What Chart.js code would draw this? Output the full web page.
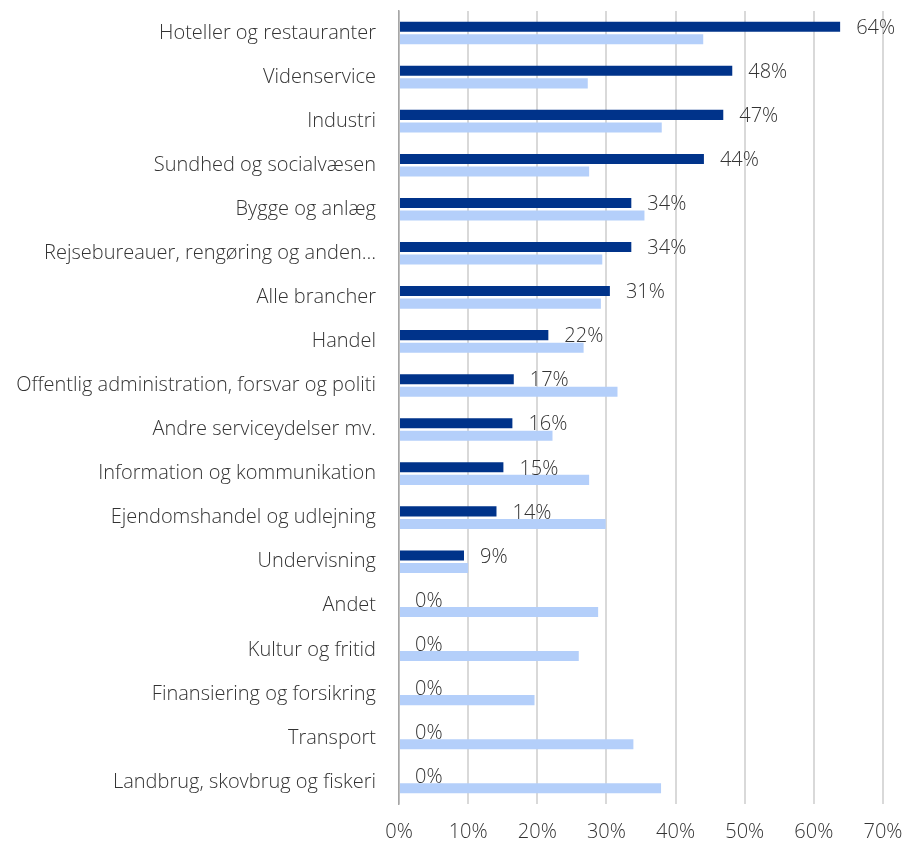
<!DOCTYPE html>
<html>
<head>
<meta charset="utf-8">
<script src="https://cdn.jsdelivr.net/npm/chart.js@4/dist/chart.umd.min.js"></script>
<style>
  html, body { margin: 0; padding: 0; background: #fff; }
  #wrap { width: 903px; height: 846px; }
</style>
</head>
<body>
<div id="wrap"><canvas id="c"></canvas></div>
<script>
const categories = [
  'Hoteller og restauranter',
  'Videnservice',
  'Industri',
  'Sundhed og socialvæsen',
  'Bygge og anlæg',
  'Rejsebureauer, rengøring og anden…',
  'Alle brancher',
  'Handel',
  'Offentlig administration, forsvar og politi',
  'Andre serviceydelser mv.',
  'Information og kommunikation',
  'Ejendomshandel og udlejning',
  'Undervisning',
  'Andet',
  'Kultur og fritid',
  'Finansiering og forsikring',
  'Transport',
  'Landbrug, skovbrug og fiskeri',
];

// dark series (labelled) and light series, in percent
const darkValues  = [63.8, 48.2, 46.9, 44.1, 33.6, 33.6, 30.5, 21.6, 16.6, 16.4, 15.1, 14.1, 9.4, 0, 0, 0, 0, 0];
const lightValues = [44.0, 27.3, 38.0, 27.5, 35.5, 29.4, 29.2, 26.7, 31.6, 22.2, 27.5, 29.9, 10.0, 28.8, 26.0, 19.6, 33.9, 37.9];

const xTicks = [0, 10, 20, 30, 40, 50, 60, 70];

const FONT = '"Open Sans", "Segoe UI", sans-serif';
const TEXT = '#333333';

// draws "64%" style labels after the dark bars
const barLabels = {
  id: 'barLabels',
  afterDatasetsDraw(chart) {
    const ctx = chart.ctx;
    const meta = chart.getDatasetMeta(0);
    ctx.save();
    ctx.font = '300 20px ' + FONT;
    ctx.fillStyle = TEXT;
    ctx.textAlign = 'left';
    ctx.textBaseline = 'middle';
    meta.data.forEach((bar, i) => {
      ctx.fillText(Math.round(darkValues[i]) + '%', bar.x + 16, bar.y + 1.5);
    });
    ctx.restore();
  }
};

new Chart(document.getElementById('c'), {
  type: 'bar',
  data: {
    labels: categories,
    datasets: [
      { data: darkValues, backgroundColor: '#00338a', barPercentage: 0.8, categoryPercentage: 0.57 },
      { data: lightValues, backgroundColor: '#b4cffa', barPercentage: 0.8, categoryPercentage: 0.57 },
    ],
  },
  options: {
    indexAxis: 'y',
    responsive: true,
    maintainAspectRatio: false,
    animation: false,
    layout: { padding: { top: 11, right: 20, bottom: 2, left: 0 } },
    plugins: { legend: { display: false }, tooltip: { enabled: false } },
    scales: {
      x: {
        min: 0,
        max: 70,
        afterBuildTicks: (s) => { s.ticks = xTicks.map((v) => ({ value: v })); },
        afterFit: (s) => { s.height = 40; s.paddingLeft = 0; s.paddingRight = 0; },
        grid: { color: '#d9d9d9', lineWidth: 2, drawTicks: false },
        border: { display: false },
        ticks: {
          padding: 16,
          color: TEXT,
          font: { family: FONT, size: 20, weight: 300 },
          callback: (v) => v + '%',
        },
      },
      y: {
        grid: { display: false, drawTicks: false },
        border: { display: true, color: '#a6a6a6', width: 1.5 },
        afterFit: (s) => { s.width = 399; s.paddingTop = 0; s.paddingBottom = 0; },
        ticks: {
          padding: 23,
          color: TEXT,
          autoSkip: false,
          font: { family: FONT, size: 20, weight: 300 },
        },
      },
    },
  },
  plugins: [barLabels],
});
</script>
</body>
</html>
